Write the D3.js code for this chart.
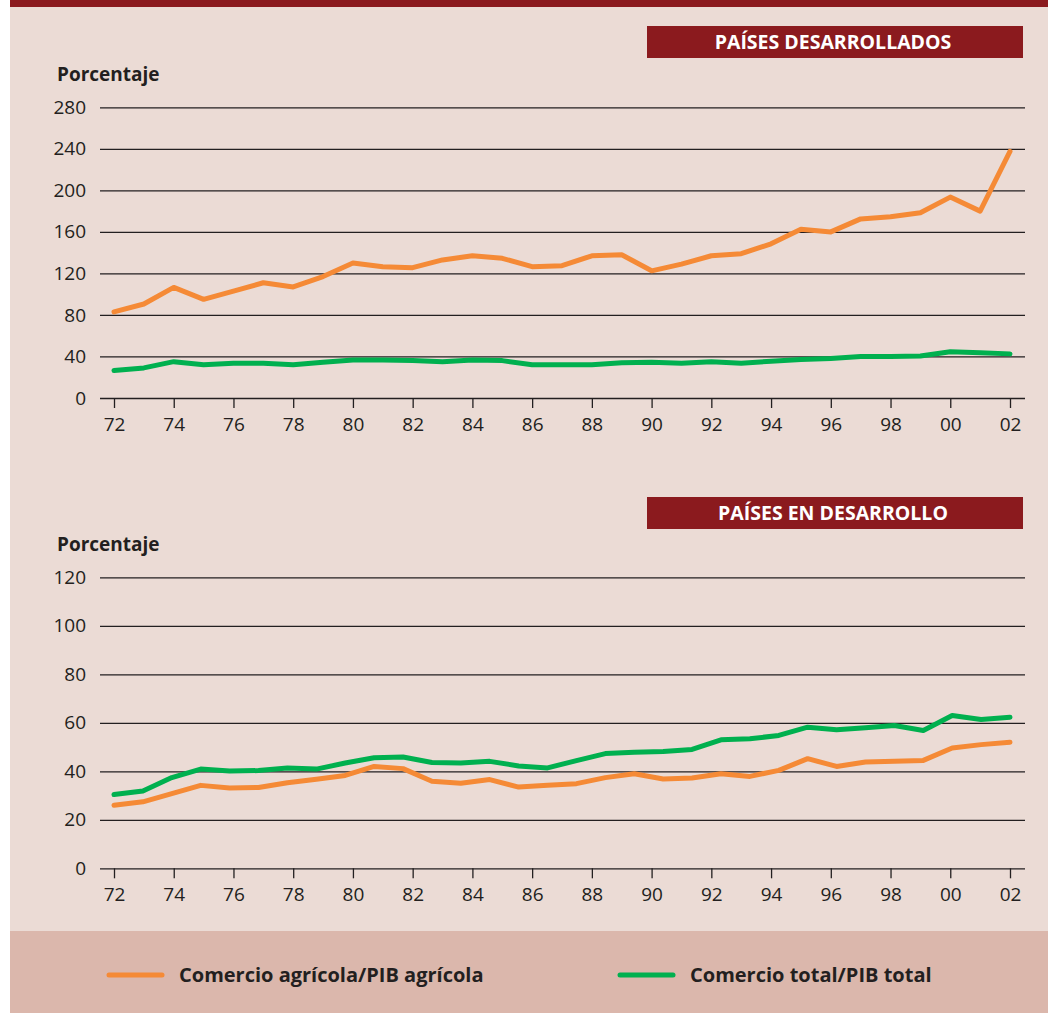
<!DOCTYPE html>
<html>
<head>
<meta charset="utf-8">
<script src="https://cdn.jsdelivr.net/npm/d3@7"></script>
<style>
  body { margin: 0; background: #fff; }
  text { font-family: "Open Sans", sans-serif; fill: #231F20; }
</style>
</head>
<body>
<svg id="chart" width="1048" height="1013"></svg>
<script>
// años (eje x) y etiquetas
let years = d3.range(1972, 2003);
let tickYears = [1972, 1974, 1976, 1978, 1980, 1982, 1984, 1986, 1988, 1990, 1992, 1994, 1996, 1998, 2000, 2002];

// países desarrollados (un punto por año, 72-02)
let devAgri = [83, 90.5, 106.5, 95, 103, 111, 107, 117, 130, 126.5, 125.5, 133, 137, 134.5, 126.5, 127.5,
    137, 138, 122.5, 129, 137, 139, 148.5, 162.5, 160, 172.5, 174.5, 178.5, 193.5, 180, 237.5];
let devTotal = [26.5, 29, 35, 32, 33.5, 33.5, 32, 34.5, 36.5, 36.5, 36, 35, 36.5, 36, 32, 32,
    32, 34, 34.5, 33.5, 35, 33.5, 35.5, 37, 38, 40, 40, 40.5, 44.5, 43.5, 42.5];

// países en desarrollo (32 puntos repartidos entre 72 y 02)
let devingAgri = [26, 27.4, 30.8, 34.2, 33.1, 33.3, 35.3, 36.7, 38.3, 42, 41.1, 35.9, 35.1, 36.6, 33.5, 34.2,
    34.9, 37.4, 39, 36.8, 37.2, 39, 37.9, 40.4, 45.2, 42, 43.8, 44.1, 44.5, 49.6, 51, 52];
let devingTotal = [30.4, 31.9, 37.4, 40.9, 40.1, 40.3, 41.4, 40.9, 43.4, 45.6, 45.9, 43.6, 43.4, 44.1, 42.2, 41.4,
    44.4, 47.3, 47.9, 48.2, 49, 53, 53.4, 54.8, 58.2, 57.1, 58, 58.9, 56.8, 63, 61.4, 62.3];

let topTicks = [0, 40, 80, 120, 160, 200, 240, 280];
let bottomTicks = [0, 20, 40, 60, 80, 100, 120];

let titles = ["PAÍSES DESARROLLADOS", "PAÍSES EN DESARROLLO"];
let legendLabels = ["Comercio agrícola/PIB agrícola", "Comercio total/PIB total"];

let orange = "#F58A36";
let green = "#00B04F";
let darkRed = "#8B1A1E";

let svg = d3.select("#chart");

// fondos
svg.append("rect").attr("x", 10).attr("y", 0).attr("width", 1038).attr("height", 931).attr("fill", "#EBDBD5");
svg.append("rect").attr("x", 10).attr("y", 0).attr("width", 1038).attr("height", 7).attr("fill", darkRed);
svg.append("rect").attr("x", 10).attr("y", 931).attr("width", 1038).attr("height", 82).attr("fill", "#DBB7AC");

let x = d3.scaleLinear().domain([1972, 2002]).range([114, 1010]);
let xIdx = d3.scaleLinear().domain([0, 31]).range([114, 1010]);

let drawPanel = (cfg) => {
    let y = d3.scaleLinear().domain(cfg.domain).range(cfg.range);
    let g = svg.append("g");

    // caja del título
    g.append("rect")
        .attr("x", 647).attr("y", cfg.boxY)
        .attr("width", 376).attr("height", 32)
        .attr("fill", darkRed);
    g.append("text")
        .attr("x", 833).attr("y", cfg.boxY + 23)
        .attr("text-anchor", "middle")
        .style("font-size", "19.5px").style("font-weight", 700)
        .style("fill", "#fff")
        .text(cfg.title);

    g.append("text")
        .attr("x", 57).attr("y", cfg.range[1] - 26)
        .style("font-size", "19px").style("font-weight", 700)
        .text("Porcentaje");

    // eje y + rejilla
    let yAxis = g.append("g")
        .attr("transform", "translate(100,0)")
        .call(d3.axisLeft(y).tickValues(cfg.ticks).tickSize(-925).tickPadding(14));
    yAxis.select(".domain").remove();
    yAxis.selectAll("line").attr("stroke", "#231F20").attr("stroke-width", 1.3);
    yAxis.selectAll("text").style("font-size", "19px").attr("fill", "#231F20").attr("font-family", null);

    // eje x
    let xAxis = g.append("g")
        .attr("transform", "translate(0," + cfg.range[0] + ")")
        .call(d3.axisBottom(x).tickValues(tickYears).tickSize(10).tickPadding(9.5)
            .tickFormat(d => String(d % 100).padStart(2, "0")));
    xAxis.select(".domain").remove();
    xAxis.selectAll("line").attr("stroke", "#231F20").attr("stroke-width", 1.3);
    xAxis.selectAll("text").style("font-size", "19px").attr("fill", "#231F20").attr("font-family", null);

    let line = d3.line()
        .x((d, i) => cfg.xPos(i))
        .y(d => y(d));

    cfg.series.forEach(s => {
        g.append("path")
            .datum(s.values)
            .attr("d", line)
            .attr("fill", "none")
            .attr("stroke", s.color)
            .attr("stroke-width", 5)
            .attr("stroke-linejoin", "round")
            .attr("stroke-linecap", "round");
    });
};

drawPanel({
    title: titles[0], boxY: 26,
    domain: [0, 280], range: [398, 107.3], ticks: topTicks,
    xPos: i => x(years[i]),
    series: [{values: devAgri, color: orange}, {values: devTotal, color: green}]
});

drawPanel({
    title: titles[1], boxY: 497,
    domain: [0, 120], range: [868.3, 577.3], ticks: bottomTicks,
    xPos: i => xIdx(i),
    series: [{values: devingAgri, color: orange}, {values: devingTotal, color: green}]
});

// leyenda
let legend = svg.append("g");
[{x: 109, color: orange}, {x: 620, color: green}].forEach((d, i) => {
    legend.append("line")
        .attr("x1", d.x).attr("x2", d.x + 53)
        .attr("y1", 975).attr("y2", 975)
        .attr("stroke", d.color).attr("stroke-width", 5).attr("stroke-linecap", "round");
    legend.append("text")
        .attr("x", d.x + 70).attr("y", 982)
        .style("font-size", "20px").style("font-weight", 700)
        .text(legendLabels[i]);
});
</script>
</body>
</html>
